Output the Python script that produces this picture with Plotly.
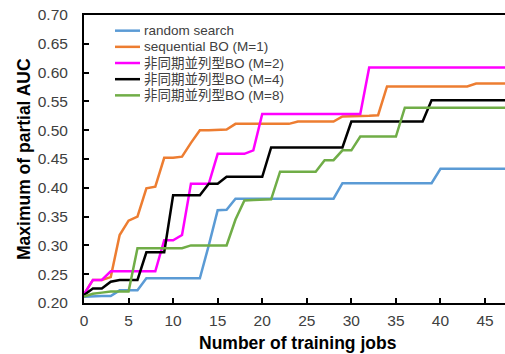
import plotly.graph_objects as go

jobs = list(range(0, 51))

random_search = [0.211, 0.212, 0.212, 0.212, 0.222, 0.222, 0.222, 0.243, 0.243, 0.243,
                 0.243, 0.243, 0.243, 0.243, 0.300, 0.361, 0.362, 0.381, 0.381, 0.381,
                 0.381, 0.381, 0.381, 0.381, 0.381, 0.381, 0.381, 0.381, 0.381, 0.408,
                 0.408, 0.408, 0.408, 0.408, 0.408, 0.408, 0.408, 0.408, 0.408, 0.408,
                 0.433, 0.433, 0.433, 0.433, 0.433, 0.433, 0.433, 0.433, 0.433, 0.433,
                 0.433]
sequential_bo = [0.215, 0.240, 0.240, 0.245, 0.318, 0.343, 0.350, 0.399, 0.402, 0.452,
                 0.452, 0.454, 0.478, 0.500, 0.500, 0.500, 0.501, 0.511, 0.511, 0.511,
                 0.511, 0.511, 0.511, 0.511, 0.515, 0.515, 0.515, 0.515, 0.515, 0.524,
                 0.524, 0.525, 0.525, 0.526, 0.576, 0.576, 0.576, 0.576, 0.576, 0.576,
                 0.576, 0.576, 0.576, 0.576, 0.581, 0.581, 0.581, 0.581, 0.581, 0.581,
                 0.581]
async_m2 = [0.215, 0.240, 0.240, 0.255, 0.255, 0.255, 0.255, 0.255, 0.255, 0.309,
            0.309, 0.318, 0.407, 0.407, 0.407, 0.459, 0.459, 0.459, 0.459, 0.465,
            0.528, 0.528, 0.528, 0.528, 0.528, 0.528, 0.528, 0.528, 0.528, 0.528,
            0.528, 0.528, 0.609, 0.609, 0.609, 0.609, 0.609, 0.609, 0.609, 0.609,
            0.609, 0.609, 0.609, 0.609, 0.609, 0.609, 0.609, 0.609, 0.609, 0.609,
            0.609]
async_m4 = [0.214, 0.225, 0.225, 0.237, 0.240, 0.240, 0.240, 0.288, 0.288, 0.288,
            0.387, 0.387, 0.387, 0.387, 0.407, 0.407, 0.419, 0.419, 0.419, 0.419,
            0.419, 0.470, 0.470, 0.470, 0.470, 0.470, 0.470, 0.470, 0.470, 0.470,
            0.515, 0.515, 0.515, 0.515, 0.515, 0.515, 0.515, 0.515, 0.515, 0.552,
            0.552, 0.552, 0.552, 0.552, 0.552, 0.552, 0.552, 0.552, 0.552, 0.552,
            0.552]
async_m8 = [0.211, 0.216, 0.218, 0.220, 0.220, 0.220, 0.295, 0.295, 0.295, 0.295,
            0.295, 0.295, 0.300, 0.300, 0.300, 0.300, 0.300, 0.345, 0.378, 0.379,
            0.380, 0.380, 0.428, 0.428, 0.428, 0.428, 0.428, 0.448, 0.448, 0.465,
            0.465, 0.489, 0.489, 0.489, 0.489, 0.489, 0.539, 0.539, 0.539, 0.539,
            0.539, 0.539, 0.539, 0.539, 0.539, 0.539, 0.539, 0.539, 0.539, 0.539,
            0.539]

series_names = ["random search", "sequential BO (M=1)", "非同期並列型BO (M=2)",
                "非同期並列型BO (M=4)", "非同期並列型BO (M=8)"]
series_values = [random_search, sequential_bo, async_m2, async_m4, async_m8]
series_colors = ["#5B9BD5", "#ED7D31", "#FF00FF", "#000000", "#70AD47"]

x_ticks = [0, 5, 10, 15, 20, 25, 30, 35, 40, 45]
y_ticks = [0.20, 0.25, 0.30, 0.35, 0.40, 0.45, 0.50, 0.55, 0.60, 0.65, 0.70]

FONT = "Arial, Liberation Sans, Noto Sans CJK JP, sans-serif"

# layout geometry (pixels)
W, H = 505, 354
ML, MR, MT, MB = 84, 0, 15, 50.5
PW, PH = W - ML - MR, H - MT - MB

fig = go.Figure()
for name, vals, col in zip(series_names, series_values, series_colors):
    fig.add_trace(go.Scatter(x=jobs, y=vals, mode="lines", name=name,
                             line=dict(color=col, width=2.5), showlegend=False))

# hand-built legend (compact row spacing like the reference)
shapes = []
annotations = []
leg_x0, leg_x1, leg_tx = 115, 140, 142
leg_y0, leg_dy = 30.7, 16.2
for i, (name, col) in enumerate(zip(series_names, series_colors)):
    py = leg_y0 + i * leg_dy
    yp = (H - MB - py) / PH
    shapes.append(dict(type="line", xref="paper", yref="paper",
                       x0=(leg_x0 - ML) / PW, x1=(leg_x1 - ML) / PW, y0=yp, y1=yp,
                       line=dict(color=col, width=2.5)))
    annotations.append(dict(text=name, xref="paper", yref="paper",
                            x=(leg_tx - ML) / PW, y=yp, xanchor="left", yanchor="middle",
                            showarrow=False,
                            font=dict(size=13.5, color="#404040", family=FONT)))

annotations += [
    dict(text="<b>Number of training jobs</b>", xref="paper", yref="paper",
         x=(297.5 - ML) / PW, y=0, yshift=-39.5, xanchor="center", yanchor="middle",
         showarrow=False, font=dict(size=17.5, color="black", family=FONT)),
    dict(text="<b>Maximum of partial AUC</b>", xref="paper", yref="paper",
         x=0, xshift=-60, y=0.5, xanchor="center", yanchor="middle",
         textangle=-90, showarrow=False,
         font=dict(size=17.5, color="black", family=FONT)),
]

fig.update_layout(
    width=W, height=H,
    margin=dict(l=ML, r=MR, t=MT, b=MB),
    paper_bgcolor="white", plot_bgcolor="white",
    font=dict(family=FONT, color="#404040"),
    showlegend=False,
    shapes=shapes,
    annotations=annotations,
    xaxis=dict(range=[0, 47.24], tickvals=x_ticks, ticks="inside", ticklen=5,
               tickwidth=1.5, tickcolor="black", showline=True, linecolor="black",
               linewidth=2, mirror=True, showgrid=False, zeroline=False,
               tickfont=dict(size=15.5, color="#404040"), ticklabelstandoff=2),
    yaxis=dict(range=[0.2, 0.7], tickvals=y_ticks, tickformat=".2f", ticks="inside",
               ticklen=5, tickwidth=1.5, tickcolor="black", showline=True,
               linecolor="black", linewidth=2, showgrid=False, zeroline=False,
               tickfont=dict(size=15.5, color="#404040"), ticklabelstandoff=11),
)

fig.write_html("out.html", config={"displayModeBar": False},
               post_script="document.body.style.margin='0px';")
